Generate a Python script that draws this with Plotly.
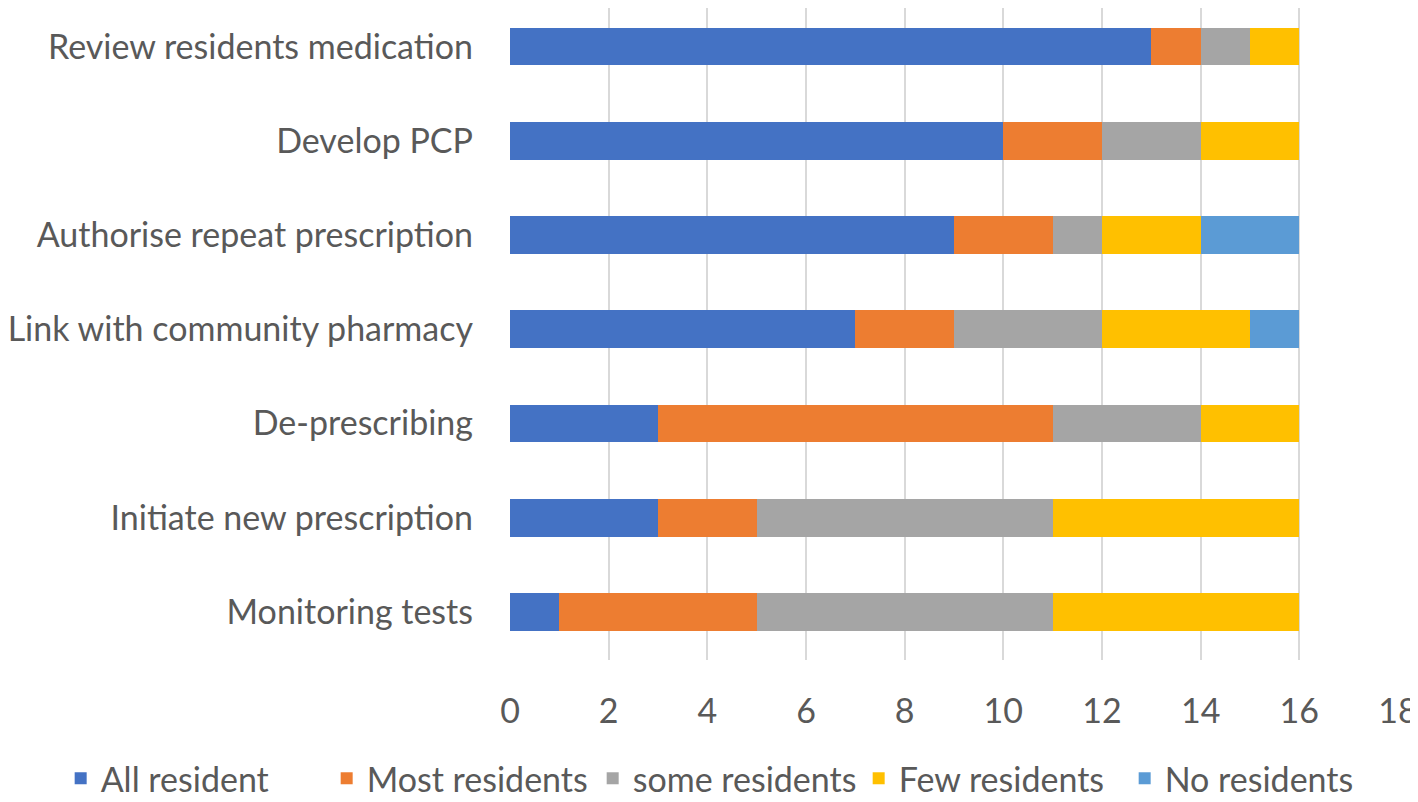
import plotly.graph_objects as go

activities = ["Review residents medication", "Develop PCP", "Authorise repeat prescription",
              "Link with community pharmacy", "De-prescribing", "Initiate new prescription",
              "Monitoring tests"]

all_resident = [13, 10, 9, 7, 3, 3, 1]
most_residents = [1, 2, 2, 2, 8, 2, 4]
some_residents = [1, 2, 1, 3, 3, 6, 6]
few_residents = [1, 2, 2, 3, 2, 5, 5]
no_residents = [0, 0, 2, 1, 0, 0, 0]

series = [
    ("All resident", all_resident, "#4472C4"),
    ("Most residents", most_residents, "#ED7D31"),
    ("some residents", some_residents, "#A5A5A5"),
    ("Few residents", few_residents, "#FFC000"),
    ("No residents", no_residents, "#5B9BD5"),
]

font_family = "Lato"
text_color = "#595959"

fig = go.Figure()
for name, vals, color in series:
    fig.add_trace(go.Bar(y=activities, x=vals, name=name, orientation="h",
                         marker=dict(color=color, line=dict(width=0))))

# page body has an 8px margin, so the figure is sized 8px smaller
fig.update_layout(
    barmode="stack",
    bargap=0.6,
    width=1410, height=794,
    margin=dict(l=502, r=20, t=0, b=142, autoexpand=False),
    plot_bgcolor="white", paper_bgcolor="white",
    font=dict(family=font_family, size=34, color=text_color),
    # legend anchored left of the plot area so it may use the full width in one row
    legend=dict(orientation="h", x=-0.506, xanchor="left",
                y=-0.182, yanchor="middle",
                font=dict(size=34, color=text_color), traceorder="normal",
                itemwidth=30, entrywidth=221, entrywidthmode="pixels"),
    showlegend=True,
)
fig.update_xaxes(range=[0, 18], dtick=2, showgrid=True, gridcolor="#D9D9D9", gridwidth=2,
                 zeroline=False, showline=False, ticks="", ticklabelstandoff=28)
fig.update_yaxes(autorange=False, range=[6.51, -0.41], showgrid=False, showline=False,
                 ticks="", ticklabelstandoff=36)

fig.write_html("out.html")
